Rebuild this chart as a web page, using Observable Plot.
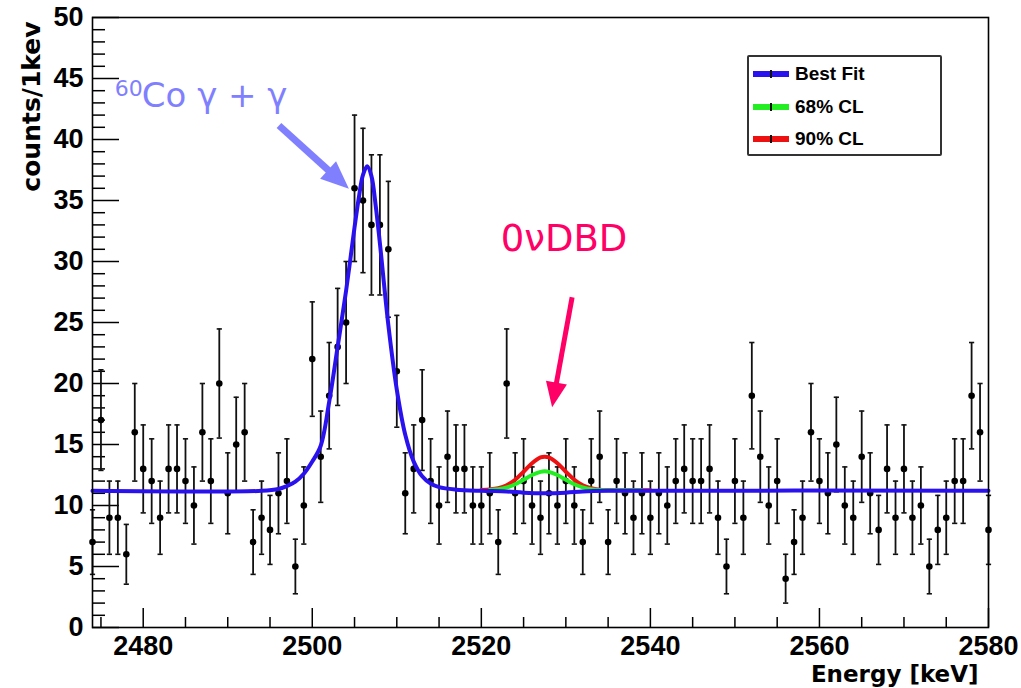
<!DOCTYPE html>
<html>
<head>
<meta charset="utf-8">
<script src="https://cdn.jsdelivr.net/npm/d3@7"></script>
<script src="https://cdn.jsdelivr.net/npm/@observablehq/plot@0.6"></script>
<style>
  body { margin: 0; background: #fff; }
  #wrap { position: relative; width: 1021px; height: 688px; overflow: hidden; }
  .legend { position: absolute; left: 747px; top: 55px; width: 191px; height: 97px;
    border: 2px solid #333; border-radius: 2px; background: #fff;
    font-family: "Liberation Sans", Arial, sans-serif; font-weight: bold; font-size: 19px; color: #000; }
  .row { position: absolute; left: 0; height: 22px; display: flex; align-items: center; white-space: nowrap; }
  .sw { position: relative; width: 36px; height: 6px; margin-left: 4px; margin-right: 6px; }
  .sw::after { content: ""; position: absolute; left: 17px; top: -1px; width: 2px; height: 8px; background: #111; }
</style>
</head>
<body>
<div id="wrap"></div>
<script>
// ---------- data ----------
const firstEnergy = 2474; // keV, one bin per keV
const counts = [
  7, 17, 9, 9, 6, 16, 13, 12, 9, 13,      // 2474-2483
  13, 12, 10, 16, 12, 20, 11, 15, 16, 7,  // 2484-2493
  9, 8, 11, 12, 5, 10, 22, 14, 19, 23,    // 2494-2503
  25, 36, 35, 33, 33, 31, 21, 11, 13, 17, // 2504-2513
  12, 10, 14, 13, 13, 10, 10, 11, 7, 20,  // 2514-2523
  11, 12, 10, 9, 11, 10, 12, 10, 7, 12,   // 2524-2533
  14, 7, 12, 11, 9, 11, 9, 11, 10, 12,    // 2534-2543
  13, 12, 12, 13, 9, 5, 12, 9, 19, 14,    // 2544-2553
  10, 12, 4, 7, 9, 16, 12, 11, 15, 10,    // 2554-2563
  9, 14, 11, 8, 13, 9, 13, 9, 10, 5,      // 2564-2573
  8, 9, 12, 12, 19, 16, 8                 // 2574-2580
];

// best fit curve
const bestFitE = [2474, 2494, 2496, 2497, 2498, 2499, 2500, 2501, 2502, 2503, 2504, 2505, 2505.5, 2506, 2506.5,
  2507, 2507.5, 2508, 2509, 2510, 2511, 2512, 2513, 2514, 2515, 2517, 2520, 2523, 2525, 2527.5, 2530, 2532, 2535, 2580];
const bestFitV = [11.2, 11.2, 11.35, 11.6, 11.95, 12.6, 13.6, 14.9, 18.5, 23.0, 27.6, 32.8, 35.2, 37.1, 37.8,
  37.0, 34.6, 31.5, 24.8, 19.5, 15.8, 13.6, 12.4, 11.8, 11.5, 11.3, 11.2, 11.15, 11.05, 11.0, 11.05, 11.15, 11.2, 11.2];

// 68% CL curve
const cl68E = [2521, 2522, 2523, 2524, 2525, 2526, 2527, 2527.5, 2528, 2529, 2530, 2531, 2532, 2533, 2534, 2536, 2539];
const cl68V = [11.28, 11.34, 11.48, 11.74, 12.11, 12.5, 12.76, 12.8, 12.76, 12.5, 12.11, 11.74, 11.48, 11.34, 11.28, 11.25, 11.25];

// 90% CL curve
const cl90E = [2520, 2521, 2522, 2523, 2524, 2525, 2526, 2527, 2527.5, 2528, 2529, 2530, 2531, 2532, 2533, 2534, 2535, 2536, 2538, 2540];
const cl90V = [11.28, 11.32, 11.42, 11.66, 12.11, 12.77, 13.47, 13.94, 14.0, 13.94, 13.47, 12.77, 12.11, 11.66, 11.41, 11.3, 11.27, 11.26, 11.26, 11.26];

// ticks
const xMajorTicks = [2480, 2500, 2520, 2540, 2560, 2580];
const xMinorTicks = [2475, 2485, 2490, 2495, 2505, 2510, 2515, 2525, 2530, 2535, 2545, 2550, 2555, 2565, 2570, 2575];
const yMajorTicks = [0, 5, 10, 15, 20, 25, 30, 35, 40, 45, 50];
const yMinorTicks = [1,2,3,4,6,7,8,9,11,12,13,14,16,17,18,19,21,22,23,24,26,27,28,29,31,32,33,34,36,37,38,39,41,42,43,44,46,47,48,49];

// annotations (data coordinates)
const cobaltMass = [{x: 2476.64, y: 44.18, text: "60"}];
const cobaltLabel = [{x: 2479.83, y: 43.52, text: "Co γ + γ"}];
const cobaltArrow = [{x1: 2496.06, y1: 41.15, x2: 2503.1, y2: 36.73}];
const dbdLabel = [{x: 2522.3, y: 31.87, text: "0νDBD"}];
const dbdArrow = [{x1: 2530.74, y1: 27.07, x2: 2528.63, y2: 19.07}];

const legendItems = [
  {label: "Best Fit", color: "#2a12ee"},
  {label: "68% CL", color: "#22ee22"},
  {label: "90% CL", color: "#ee1111"}
];

// ---------- build tables ----------
const points = counts.map((c, i) => ({E: firstEnergy + i, c}));
const bestFit = bestFitE.map((E, i) => ({E, v: bestFitV[i]}));
const cl68 = cl68E.map((E, i) => ({E, v: cl68V[i]}));
const cl90 = cl90E.map((E, i) => ({E, v: cl90V[i]}));

const capSymbol = {draw(ctx, size) { const r = Math.sqrt(size / Math.PI); ctx.moveTo(-r, 0); ctx.lineTo(r, 0); }};
const headSymbol = {draw(ctx, size) { const r = Math.sqrt(size / Math.PI); ctx.moveTo(0, -r); ctx.lineTo(0.85 * r, r); ctx.lineTo(-0.85 * r, r); ctx.closePath(); }};

const W = 1021, H = 688, mL = 92, mR = 33, mT = 17, mB = 61;
const plotW = W - mL - mR, plotH = H - mT - mB;
const sans = "Liberation Sans, Arial, Helvetica, sans-serif";
const dejavu = "DejaVu Sans, sans-serif";
const blue = "#2a12ee", lightBlue = "#8080ff", magenta = "#ff0066";

const chart = Plot.plot({
  width: W, height: H,
  marginLeft: mL, marginRight: mR, marginTop: mT, marginBottom: mB,
  style: {background: "#fff", fontFamily: sans},
  x: {domain: [2474, 2580]},
  y: {domain: [0, 50]},
  marks: [
    // ticks inside frame
    Plot.tickX(xMajorTicks, {x: d => d, insetTop: plotH - 19, stroke: "#000", strokeWidth: 1.5}),
    Plot.tickX(xMinorTicks, {x: d => d, insetTop: plotH - 10, stroke: "#000", strokeWidth: 1.5}),
    Plot.tickY(yMajorTicks, {y: d => d, insetRight: plotW - 27, stroke: "#000", strokeWidth: 1.5}),
    Plot.tickY(yMinorTicks, {y: d => d, insetRight: plotW - 13, stroke: "#000", strokeWidth: 1.5}),
    Plot.axisX({ticks: xMajorTicks, tickSize: 0, tickPadding: 8, tickFormat: "d", label: null,
      fontSize: 27, fontWeight: "bold", fontFamily: sans, fill: "#000"}),
    Plot.axisY({ticks: yMajorTicks, tickSize: 0, tickPadding: 9, tickFormat: "d", label: null,
      fontSize: 27, fontWeight: "bold", fontFamily: sans, fill: "#000"}),
    // axis titles
    Plot.text(["counts/1kev"], {text: d => d, frameAnchor: "top-left", rotate: -90, textAnchor: "end",
      dx: -70, dy: 4, fontSize: 25, fontWeight: "bold", fontFamily: dejavu, fill: "#000"}),
    Plot.text(["Energy [keV]"], {text: d => d, frameAnchor: "bottom-right", textAnchor: "end",
      dx: -10, dy: 54, fontSize: 23, fontWeight: "bold", fontFamily: dejavu, fill: "#000"}),
    // data: error bars + markers
    Plot.ruleX(points, {x: "E", y1: d => d.c - Math.sqrt(d.c), y2: d => d.c + Math.sqrt(d.c), stroke: "#111", strokeWidth: 1.8}),
    Plot.dot(points, {x: "E", y: d => d.c + Math.sqrt(d.c), symbol: capSymbol, r: 2.6, stroke: "#111", strokeWidth: 1.6, fill: "none"}),
    Plot.dot(points, {x: "E", y: d => d.c - Math.sqrt(d.c), symbol: capSymbol, r: 2.6, stroke: "#111", strokeWidth: 1.6, fill: "none"}),
    Plot.dot(points, {x: "E", y: "c", r: 3.3, fill: "#000", stroke: "none"}),
    // fit curves
    Plot.line(cl90, {x: "E", y: "v", stroke: "#ee1111", strokeWidth: 4, curve: "catmull-rom"}),
    Plot.line(cl68, {x: "E", y: "v", stroke: "#22ee22", strokeWidth: 4, curve: "catmull-rom"}),
    Plot.line(bestFit, {x: "E", y: "v", stroke: blue, strokeWidth: 4, curve: "catmull-rom"}),
    // annotations
    Plot.text(cobaltMass, {x: "x", y: "y", text: "text", textAnchor: "start", fontSize: 22, fill: lightBlue, fontFamily: dejavu}),
    Plot.text(cobaltLabel, {x: "x", y: "y", text: "text", textAnchor: "start", fontSize: 34, fill: lightBlue, fontFamily: dejavu}),
    Plot.link(cobaltArrow, {x1: "x1", y1: "y1", x2: "x2", y2: "y2", stroke: lightBlue, strokeWidth: 7}),
    Plot.dot(cobaltArrow, {x: "x2", y: "y2", symbol: headSymbol, r: 14, rotate: 132, fill: lightBlue, stroke: "none"}),
    Plot.text(dbdLabel, {x: "x", y: "y", text: "text", textAnchor: "start", fontSize: 37, fill: magenta, fontFamily: dejavu}),
    Plot.link(dbdArrow, {x1: "x1", y1: "y1", x2: "x2", y2: "y2", stroke: magenta, strokeWidth: 5}),
    Plot.dot(dbdArrow, {x: "x2", y: "y2", symbol: headSymbol, r: 12.5, rotate: 190, fill: magenta, stroke: "none"}),
    Plot.frame({stroke: "#000", strokeWidth: 1.6})
  ]
});

const wrap = document.getElementById("wrap");
wrap.appendChild(chart);

// legend
const legend = document.createElement("div");
legend.className = "legend";
const rowTops = [6, 39, 71];
legendItems.forEach((item, i) => {
  const row = document.createElement("div");
  row.className = "row";
  row.style.top = rowTops[i] + "px";
  const sw = document.createElement("div");
  sw.className = "sw";
  sw.style.background = item.color;
  const t = document.createElement("span");
  t.textContent = item.label;
  row.appendChild(sw);
  row.appendChild(t);
  legend.appendChild(row);
});
wrap.appendChild(legend);
</script>
</body>
</html>
